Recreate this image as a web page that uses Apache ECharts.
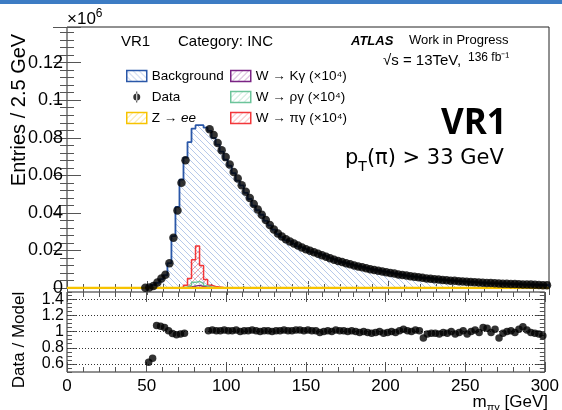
<!DOCTYPE html>
<html><head><meta charset="utf-8">
<script src="https://cdn.jsdelivr.net/npm/echarts@6/dist/echarts.min.js"></script>
<style>html,body{margin:0;padding:0;background:#fff}#c{width:562px;height:410px}</style>
</head><body><div id="c"></div>
<script>
// ---------------- data (values in units of 10^6 entries per 2.5 GeV) ----------------
const binWidth = 2.5;
const xTicks = [0, 50, 100, 150, 200, 250, 300];
const yTicksMain = [0, 0.02, 0.04, 0.06, 0.08, 0.10, 0.12];
const yTicksRatio = [0.6, 0.8, 1.0, 1.2, 1.4];

// Background model, bins from 50 GeV
const bkgStart = 50;
const bkgValues = [
  0.0005, 0.0016, 0.0027, 0.0047, 0.0068, 0.0132, 0.0276, 0.0432, 0.0577, 0.0694,
  0.0777, 0.0849, 0.0867, 0.0867, 0.0854, 0.0837, 0.0800, 0.0764, 0.0726, 0.0684,
  0.0651, 0.0612, 0.0572, 0.0547, 0.0507, 0.0474, 0.0438, 0.0414, 0.0390, 0.0358,
  0.0333, 0.0311, 0.0287, 0.0271, 0.0255, 0.0246, 0.0235, 0.0222, 0.0212, 0.0205,
  0.0194, 0.0188, 0.0180, 0.0176, 0.0166, 0.0156, 0.0151, 0.0141, 0.0137, 0.0131,
  0.0126, 0.0119, 0.0115, 0.0111, 0.0105, 0.0101, 0.0098, 0.0093, 0.0088, 0.0086,
  0.0081, 0.0077, 0.0073, 0.0068, 0.0064, 0.0062, 0.0060, 0.0056, 0.0053, 0.0055,
  0.0051, 0.0048, 0.0046, 0.0044, 0.0041, 0.0040, 0.0038, 0.0037, 0.0035, 0.0033,
  0.0033, 0.0031, 0.0028, 0.0028, 0.0026, 0.0025, 0.0025, 0.0023, 0.0024, 0.0022,
  0.0021, 0.0021, 0.0020, 0.0018, 0.0018, 0.0018, 0.0017, 0.0016, 0.0015, 0.0016
];

// Data, bin centres from 48.75 GeV (null = blinded)
const dataFirstCenter = 48.75;
const dataValues = [
  0.0001, 0.0003, 0.0011, 0.0029, 0.0050, 0.0071, 0.0132, 0.0268, 0.0413, 0.0560,
  0.0680, null, null, null, null, null, 0.0845, 0.0815, 0.0772, 0.0733,
  0.0697, 0.0658, 0.0618, 0.0583, 0.0547, 0.0512, 0.0479, 0.0447, 0.0418, 0.0390,
  0.0362, 0.0336, 0.0311, 0.0290, 0.0274, 0.0260, 0.0248, 0.0237, 0.0226, 0.0216,
  0.0207, 0.0198, 0.0190, 0.0182, 0.0174, 0.0166, 0.0158, 0.0151, 0.0144, 0.0138,
  0.0132, 0.0126, 0.0120, 0.0115, 0.0110, 0.0105, 0.0100, 0.0096, 0.0092, 0.0088,
  0.0084, 0.0080, 0.0077, 0.0072, 0.0069, 0.0066, 0.0063, 0.0060, 0.0057, 0.0054,
  0.0051, 0.0049, 0.0047, 0.0045, 0.0043, 0.0041, 0.0039, 0.0038, 0.0036, 0.0035,
  0.0033, 0.0032, 0.0031, 0.0029, 0.0028, 0.0027, 0.0026, 0.0025, 0.0024, 0.0023,
  0.0022, 0.0021, 0.0021, 0.0020, 0.0019, 0.0019, 0.0018, 0.0017, 0.0016, 0.0015,
  0.0015
];

// Data / Model, bin centres from 51.25 GeV (null = blinded)
const ratioFirstCenter = 51.25;
const ratioValues = [
  0.62, 0.67, 1.075, 1.065, 1.05, 1.01, 0.975, 0.96, 0.97, 0.98,
  null, null, null, null, null, 1.01, 1.02, 1.01, 1.01, 1.02,
  1.01, 1.01, 1.02, 1.00, 1.01, 1.01, 1.02, 1.01, 1.00, 1.01,
  1.01, 1.00, 1.01, 1.01, 1.02, 1.01, 1.01, 1.02, 1.02, 1.01,
  1.02, 1.01, 1.01, 0.99, 1.00, 1.01, 1.00, 1.02, 1.01, 1.01,
  1.00, 1.01, 1.00, 0.99, 1.00, 0.99, 0.98, 0.99, 1.00, 0.98,
  0.99, 1.00, 0.99, 1.01, 1.03, 1.01, 1.00, 1.02, 1.01, 0.92,
  0.97, 0.98, 0.98, 0.97, 0.99, 0.98, 1.00, 0.97, 0.99, 1.01,
  0.97, 1.00, 1.02, 0.99, 1.05, 1.04, 0.99, 1.03, 0.92, 0.98,
  1.00, 1.01, 0.99, 1.03, 1.06, 1.02, 0.99, 0.98, 0.97, 0.95
];

// Signals (x10^4), bins of 2.5 GeV
const piStart = 70;
const piValues = [0.0004, 0.0015, 0.0050, 0.0150, 0.0224, 0.0120, 0.0045, 0.0015, 0.0008, 0.0005, 0.0003, 0.0002];
const rhoStart = 70;
const rhoValues = [0.0002, 0.0006, 0.0015, 0.0030, 0.0035, 0.0025, 0.0012, 0.0006, 0.0003, 0.0002];
const kStart = 72.5;
const kValues = [0.0002, 0.0005, 0.0010, 0.0014, 0.0008, 0.0004, 0.0002];
// Z -> ee (negligible everywhere)
const zeeStart = 0;
const zeeValues = [0, 0, 0, 0, 0, 0];
const zeeBinWidth = 50;

// ---------------- helpers ----------------
function hatch(color, dir, size) {
  size = size || 6;
  const c = document.createElement('canvas');
  c.width = c.height = size;
  const g = c.getContext('2d');
  g.strokeStyle = color; g.lineWidth = 1;
  g.beginPath();
  if (dir === '\\') {
    g.moveTo(-1, -1); g.lineTo(size + 1, size + 1);
    g.moveTo(-1, size - 1); g.lineTo(1, size + 1);
    g.moveTo(size - 1, -1); g.lineTo(size + 1, 1);
  } else {
    g.moveTo(-1, size + 1); g.lineTo(size + 1, -1);
    g.moveTo(-1, 1); g.lineTo(1, -1);
    g.moveTo(size - 1, size + 1); g.lineTo(size + 1, size - 1);
  }
  g.stroke();
  return { image: c, repeat: 'repeat' };
}
function histPoints(start, values, bw) {
  bw = bw || binWidth;
  const pts = [[start, 0]];
  values.forEach((v, i) => pts.push([start + i * bw, v]));
  const end = start + values.length * bw;
  pts.push([end, values[values.length - 1]]);
  pts.push([end, 0]);
  return pts;
}
function centers(first, values) {
  const out = [];
  values.forEach((v, i) => { if (v !== null) out.push([first + i * binWidth, v]); });
  return out;
}

const BLUE = '#2a57a8', RED = '#f2373a', GREEN = '#6cc49a', PURPLE = '#7a2384', YELLOW = '#f7c300';
const FONT = 'Liberation Sans';
const tickCol = '#555';

const bkgHatch = hatch('#b7c9ea', '\\', 6);
const piHatch = hatch('#f6a2a2', '/', 6);
const rhoHatch = hatch('#b5e0cb', '/', 6);
const kHatch = hatch('#c79acb', '/', 6);
const zeeHatch = hatch('#f7dd7a', '/', 6);

function histSeries(name, pts, color, fill, z, lw) {
  return {
    name, type: 'line', xAxisIndex: 0, yAxisIndex: 0, step: 'end', data: pts,
    symbol: 'none', clip: true, z: z,
    lineStyle: { color: color, width: lw || 1.5 },
    itemStyle: { color: fill, borderColor: color },
    areaStyle: fill ? { color: fill, opacity: 1 } : undefined,
    animation: false
  };
}

function mkX(grid, pos, labels, majLen, minLen) {
  return {
    type: 'value', gridIndex: grid, position: pos, min: 0, max: 300, interval: 50,
    axisLine: { show: false },
    axisTick: { show: true, inside: true, length: majLen, lineStyle: { color: tickCol } },
    minorTick: { show: true, splitNumber: 5, length: minLen, lineStyle: { color: tickCol } },
    axisLabel: labels ? { show: true, fontFamily: FONT, fontSize: 17, color: '#000', margin: 6,
      customValues: xTicks, formatter: v => String(v) } : { show: false },
    splitLine: { show: false }
  };
}

const chart = echarts.init(document.getElementById('c'), null, { renderer: 'canvas' });
const option = {
  backgroundColor: '#fff',
  animation: false,
  textStyle: { fontFamily: FONT },
  grid: [
    { left: 67, top: 27, width: 482, height: 261, show: true, borderColor: '#222', borderWidth: 1, backgroundColor: 'transparent' },
    { left: 67, top: 292, width: 482, height: 80, show: true, borderColor: '#222', borderWidth: 1, backgroundColor: 'transparent' }
  ],
  xAxis: [
    mkX(0, 'bottom', false, 7, 4),
    mkX(0, 'top', false, 7, 4),
    mkX(1, 'bottom', true, 10, 5),
    mkX(1, 'top', false, 10, 5)
  ],
  yAxis: [
    { type: 'value', gridIndex: 0, position: 'left', min: 0, max: 0.139, interval: 0.02,
      axisLine: { show: false },
      axisTick: { inside: true, length: 14, lineStyle: { color: tickCol } },
      minorTick: { show: true, splitNumber: 5, length: 7, lineStyle: { color: tickCol } },
      axisLabel: { fontFamily: FONT, fontSize: 18, color: '#000', margin: 4, customValues: yTicksMain,
        formatter: v => String(+v.toFixed(2)) },
      splitLine: { show: false } },
    { type: 'value', gridIndex: 0, position: 'right', min: 0, max: 0.139, interval: 0.02,
      axisLine: { show: false },
      axisTick: { inside: true, length: 14, lineStyle: { color: tickCol } },
      minorTick: { show: true, splitNumber: 5, length: 7, lineStyle: { color: tickCol } },
      axisLabel: { show: false }, splitLine: { show: false } },
    { type: 'value', gridIndex: 1, position: 'left', min: 0.5, max: 1.49, interval: 0.1,
      axisLine: { show: false },
      axisTick: { inside: true, length: 10, customValues: yTicksRatio, lineStyle: { color: tickCol } },
      axisLabel: { fontFamily: FONT, fontSize: 16, color: '#000', margin: 3, customValues: yTicksRatio,
        formatter: v => String(+v.toFixed(1)) },
      splitLine: { show: false } },
    { type: 'value', gridIndex: 1, position: 'left', min: 0.5, max: 1.49, interval: 0.05,
      axisLine: { show: false },
      axisTick: { inside: true, length: 5, lineStyle: { color: tickCol } },
      axisLabel: { show: false }, splitLine: { show: false } },
    { type: 'value', gridIndex: 1, position: 'right', min: 0.5, max: 1.49, interval: 0.1,
      axisLine: { show: false },
      axisTick: { inside: true, length: 10, customValues: yTicksRatio, lineStyle: { color: tickCol } },
      axisLabel: { show: false }, splitLine: { show: false } },
    { type: 'value', gridIndex: 1, position: 'right', min: 0.5, max: 1.49, interval: 0.05,
      axisLine: { show: false },
      axisTick: { inside: true, length: 5, lineStyle: { color: tickCol } },
      axisLabel: { show: false }, splitLine: { show: false } }
  ],
  legend: [
    { left: 121, top: 64, orient: 'vertical', itemGap: 7, itemWidth: 20, itemHeight: 11,
      textStyle: { fontFamily: FONT, fontSize: 13.5, color: '#000', rich: { i: { fontStyle: 'italic', fontFamily: FONT, fontSize: 13.5 } } },
      formatter: n => n === 'Z → ee' ? 'Z → {i|ee}' : n,
      selectedMode: false,
      data: [
        { name: 'Background', icon: 'rect', itemStyle: { color: bkgHatch, borderColor: BLUE, borderWidth: 1.5 } },
        { name: 'Data', icon: 'path://M0,5.5L0.01,5.5L0,5.6Z M20,5.5L19.99,5.5L20,5.6Z M9.5,0H10.5V11H9.5Z M10,2A3.5,3.5 0 1,0 10,9A3.5,3.5 0 1,0 10,2Z', itemStyle: { color: '#000' } },
        { name: 'Z → ee', icon: 'rect', itemStyle: { color: zeeHatch, borderColor: YELLOW, borderWidth: 1.5 } }
      ] },
    { left: 225, top: 64, orient: 'vertical', itemGap: 7, itemWidth: 20, itemHeight: 11,
      textStyle: { fontFamily: FONT, fontSize: 13.5, color: '#000' },
      selectedMode: false,
      data: [
        { name: 'W → Kγ (×10⁴)', icon: 'rect', itemStyle: { color: kHatch, borderColor: PURPLE, borderWidth: 1.5 } },
        { name: 'W → ργ (×10⁴)', icon: 'rect', itemStyle: { color: rhoHatch, borderColor: GREEN, borderWidth: 1.5 } },
        { name: 'W → πγ (×10⁴)', icon: 'rect', itemStyle: { color: piHatch, borderColor: RED, borderWidth: 1.5 } }
      ] }
  ],
  graphic: [
    { type: 'rect', shape: { x: 0, y: 0, width: 562, height: 4 }, style: { fill: '#3d7cc4' }, silent: true },
    { type: 'text', x: 121, y: 34, style: { text: 'VR1', font: '15px "Liberation Sans"', fill: '#000' } },
    { type: 'text', x: 178, y: 34, style: { text: 'Category: INC', font: '15px "Liberation Sans"', fill: '#000' } },
    { type: 'text', x: 351, y: 35, style: { text: 'ATLAS', font: 'italic bold 13px "Liberation Sans"', fill: '#000' } },
    { type: 'text', x: 409, y: 34, style: { text: 'Work in Progress', font: '13px "Liberation Sans"', fill: '#000' } },
    { type: 'text', x: 383, y: 53, style: { text: '√s = 13TeV,', font: '15px "Liberation Sans"', fill: '#000' } },
    { type: 'text', x: 468, y: 52, style: { text: '136 fb⁻¹', font: '12px "Liberation Sans"', fill: '#000' } },
    { type: 'text', x: 441, y: 107, style: { text: 'VR1', font: 'bold 35px "Open Sans"', fill: '#000' } },
    { type: 'text', x: 345, y: 148, style: { text: '{p|p}{s|T}{p|(π) > 33 GeV}',
        rich: { p: { fontFamily: 'DejaVu Sans', fontSize: 21, verticalAlign: 'top', fill: '#000' },
                s: { fontFamily: 'DejaVu Sans', fontSize: 14, verticalAlign: 'top', padding: [12, 0, 0, 0], fill: '#000' } } } },
    { type: 'text', x: 67, y: 8, style: { text: '{a|×10}{b|6}',
        rich: { a: { fontFamily: FONT, fontSize: 17, verticalAlign: 'top', padding: [3, 0, 0, 0], fill: '#000' },
                b: { fontFamily: FONT, fontSize: 12, verticalAlign: 'top', fill: '#000' } } } },
    { type: 'text', x: 19, y: 110, rotation: Math.PI / 2,
      style: { text: 'Entries / 2.5 GeV', font: '20px "Liberation Sans"', fill: '#000', align: 'center', verticalAlign: 'middle' } },
    { type: 'text', x: 19, y: 340, rotation: Math.PI / 2,
      style: { text: 'Data / Model', font: '17px "Liberation Sans"', fill: '#000', align: 'center', verticalAlign: 'middle' } },
    { type: 'text', x: 548, y: 394, style: { text: '{m|m}{s|πγ}{m| [GeV]}', align: 'right',
        rich: { m: { fontFamily: FONT, fontSize: 17, verticalAlign: 'top', fill: '#000' },
                s: { fontFamily: FONT, fontSize: 11, verticalAlign: 'top', padding: [8, 0, 0, 0], fill: '#000' } } } }
  ],
  series: [
    histSeries('Background', histPoints(bkgStart, bkgValues), BLUE, bkgHatch, 1, 1.8),
    histSeries('W → πγ (×10⁴)', histPoints(piStart, piValues), RED, piHatch, 2, 1.5),
    histSeries('W → ργ (×10⁴)', histPoints(rhoStart, rhoValues), GREEN, rhoHatch, 3, 1.5),
    histSeries('W → Kγ (×10⁴)', histPoints(kStart, kValues), PURPLE, kHatch, 4, 1.5),
    histSeries('Z → ee', histPoints(zeeStart, zeeValues, zeeBinWidth), YELLOW, null, 5, 2.5),
    { name: 'Data', type: 'scatter', xAxisIndex: 0, yAxisIndex: 0, data: centers(dataFirstCenter, dataValues),
      symbol: 'circle', symbolSize: 8.5, itemStyle: { color: '#000' }, z: 10 },
    { name: 'Ratio', type: 'scatter', xAxisIndex: 2, yAxisIndex: 2, data: centers(ratioFirstCenter, ratioValues),
      symbol: 'circle', symbolSize: 7.5, itemStyle: { color: '#000' }, z: 10,
      markLine: { silent: true, symbol: 'none', label: { show: false },
        lineStyle: { color: '#333', type: [1, 2], width: 1 },
        data: yTicksRatio.map(v => ({ yAxis: v })) } }
  ]
};
chart.setOption(option);
</script>
</body></html>
